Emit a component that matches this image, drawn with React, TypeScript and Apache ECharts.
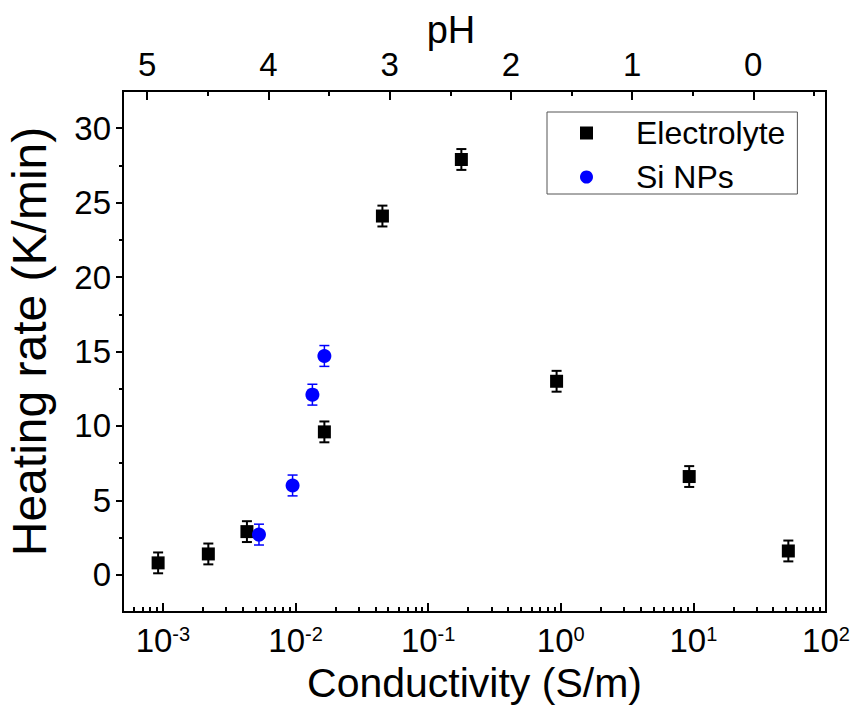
import React, { useEffect, useRef } from 'react';
import * as echarts from 'echarts';

// ---- data ----
const conductivityElectrolyte = [9.2e-4, 2.2e-3, 4.3e-3, 0.0165, 0.0452, 0.178, 0.93, 9.3, 52];
const rateElectrolyte = [0.8, 1.4, 2.9, 9.6, 24.1, 27.9, 13.0, 6.6, 1.6];
const errElectrolyte = [0.7, 0.7, 0.7, 0.7, 0.7, 0.7, 0.7, 0.7, 0.7];

const conductivitySi = [5.3e-3, 9.5e-3, 0.0134, 0.0165];
const rateSi = [2.7, 6.0, 12.1, 14.7];
const errSi = [0.7, 0.7, 0.7, 0.7];

const yMajorTicks = [0, 5, 10, 15, 20, 25, 30];
const yMinorTicks = [2.5, 7.5, 12.5, 17.5, 22.5, 27.5];
const pHMajorTicks = [0, 1, 2, 3, 4, 5];
const pHMinorTicks = [-0.5, 0.5, 1.5, 2.5, 3.5, 4.5];
const decades = [-4, -3, -2, -1, 0, 1];
const minorMantissas = [2, 3, 4, 5, 6, 7, 8, 9];

const X_MIN = 5e-4;
const X_MAX = 100;
const PH_MIN = -0.6;
const PH_MAX = 5.2;

const FONT = 'Arial, "Liberation Sans", Helvetica, sans-serif';

const logMinorTicks: number[] = [];
decades.forEach((d) => {
  minorMantissas.forEach((m) => {
    const v = Math.log10(m * Math.pow(10, d));
    if (v > Math.log10(X_MIN) && v < Math.log10(X_MAX)) logMinorTicks.push(v);
  });
});

function errorBarSeries(name: string, xs: number[], ys: number[], errs: number[], color: string, lw: number) {
  return {
    type: 'custom',
    name,
    xAxisIndex: 0,
    yAxisIndex: 0,
    silent: true,
    z: 1,
    data: xs.map((x, i) => [x, ys[i] - errs[i], ys[i] + errs[i]]),
    encode: { x: 0, y: [1, 2] },
    renderItem: (params: any, api: any) => {
      const x = api.value(0);
      const lo = api.coord([x, api.value(1)]);
      const hi = api.coord([x, api.value(2)]);
      const w = 5;
      const style = { stroke: color, lineWidth: lw, fill: 'none' };
      return {
        type: 'group',
        children: [
          { type: 'line', shape: { x1: lo[0], y1: lo[1], x2: hi[0], y2: hi[1] }, style },
          { type: 'line', shape: { x1: lo[0] - w, y1: lo[1], x2: lo[0] + w, y2: lo[1] }, style },
          { type: 'line', shape: { x1: hi[0] - w, y1: hi[1], x2: hi[0] + w, y2: hi[1] }, style },
        ],
      };
    },
  };
}

export default function App() {
  const ref = useRef<HTMLDivElement>(null);

  useEffect(() => {
    const chart = echarts.init(ref.current as HTMLDivElement, null, { renderer: 'svg' });
    const black = '#000';
    const option: any = {
      animation: false,
      backgroundColor: '#fff',
      grid: {
        left: 123,
        top: 91,
        width: 703,
        height: 521,
        show: true,
        borderColor: black,
        borderWidth: 2,
        backgroundColor: 'transparent',
        containLabel: false,
        outerBoundsMode: 'none',
      },
      legend: {
        orient: 'vertical',
        left: 547,
        top: 112,
        padding: [5, 12, 1, 33],
        itemWidth: 13,
        itemHeight: 13,
        itemGap: 12,
        borderColor: '#555',
        borderWidth: 1,
        backgroundColor: '#fff',
        selectedMode: false,
        textStyle: { fontSize: 32, fontFamily: FONT, color: black, padding: [0, 0, 0, 38] },
        data: ['Electrolyte', 'Si NPs'],
      },
      xAxis: [
        {
          type: 'log',
          logBase: 10,
          min: X_MIN,
          max: X_MAX,
          position: 'bottom',
          name: 'Conductivity (S/m)',
          nameLocation: 'middle',
          nameGap: 50,
          nameMoveOverlap: false,
          nameTextStyle: { fontSize: 41, fontFamily: FONT, color: black },
          axisLine: { show: true, onZero: false, lineStyle: { color: black, width: 2 } },
          axisTick: { show: true, inside: true, length: 9, lineStyle: { color: black, width: 2 } },
          splitLine: { show: false },
          axisLabel: {
            margin: 12,
            formatter: (v: number) => {
              const l = Math.log10(v);
              const e = Math.round(l);
              if (Math.abs(l - e) > 1e-6) return '';
              return '{b|10}{s|' + e + '}';
            },
            rich: {
              b: { fontSize: 33, fontFamily: FONT, color: black },
              s: { fontSize: 20, fontFamily: FONT, color: black, verticalAlign: 'top' },
            },
          },
        },
        {
          type: 'value',
          position: 'top',
          min: PH_MIN,
          max: PH_MAX,
          inverse: true,
          name: 'pH',
          nameLocation: 'middle',
          nameGap: 42,
          nameMoveOverlap: false,
          nameTextStyle: { fontSize: 38, fontFamily: FONT, color: black, padding: [0, 47, 0, 0] },
          axisLine: { show: true, onZero: false, lineStyle: { color: black, width: 2 } },
          axisTick: { show: true, inside: true, length: 9, customValues: pHMajorTicks, lineStyle: { color: black, width: 2 } },
          axisLabel: { show: true, margin: 10, customValues: pHMajorTicks, fontSize: 33, fontFamily: FONT, color: black },
          splitLine: { show: false },
        },
        {
          type: 'value',
          position: 'bottom',
          min: Math.log10(X_MIN),
          max: Math.log10(X_MAX),
          axisLine: { show: false, onZero: false },
          axisLabel: { show: false },
          axisTick: { show: true, inside: true, length: 5, customValues: logMinorTicks, lineStyle: { color: black, width: 2 } },
          splitLine: { show: false },
        },
        {
          type: 'value',
          position: 'top',
          min: PH_MIN,
          max: PH_MAX,
          inverse: true,
          axisLine: { show: false, onZero: false },
          axisLabel: { show: false },
          axisTick: { show: true, inside: true, length: 5, customValues: pHMinorTicks, lineStyle: { color: black, width: 2 } },
          splitLine: { show: false },
        },
      ],
      yAxis: [
        {
          type: 'value',
          position: 'left',
          min: -2.5,
          max: 32.5,
          name: 'Heating rate (K/min)',
          nameLocation: 'middle',
          nameGap: 70,
          nameMoveOverlap: false,
          nameTextStyle: { fontSize: 48, fontFamily: FONT, color: black, padding: [0, 0, 0, 20] },
          axisLine: { show: true, onZero: false, lineStyle: { color: black, width: 2 } },
          axisTick: { show: true, inside: false, length: 7, customValues: yMajorTicks, lineStyle: { color: black, width: 2 } },
          axisLabel: { show: true, margin: 12, customValues: yMajorTicks, fontSize: 33, fontFamily: FONT, color: black },
          splitLine: { show: false },
        },
        {
          type: 'value',
          position: 'left',
          min: -2.5,
          max: 32.5,
          axisLine: { show: false, onZero: false },
          axisLabel: { show: false },
          axisTick: { show: true, inside: false, length: 4, customValues: yMinorTicks, lineStyle: { color: black, width: 2 } },
          splitLine: { show: false },
        },
      ],
      series: [
        errorBarSeries('Electrolyte error', conductivityElectrolyte, rateElectrolyte, errElectrolyte, '#000', 2),
        errorBarSeries('Si NPs error', conductivitySi, rateSi, errSi, '#0000ff', 1.5),
        {
          type: 'scatter',
          name: 'Electrolyte',
          xAxisIndex: 0,
          yAxisIndex: 0,
          symbol: 'rect',
          symbolSize: 13,
          itemStyle: { color: '#000', opacity: 1 },
          z: 3,
          data: conductivityElectrolyte.map((c, i) => [c, rateElectrolyte[i]]),
        },
        {
          type: 'scatter',
          name: 'Si NPs',
          xAxisIndex: 0,
          yAxisIndex: 0,
          symbol: 'circle',
          symbolSize: 14,
          itemStyle: { color: '#0000ff', opacity: 1 },
          z: 4,
          data: conductivitySi.map((c, i) => [c, rateSi[i]]),
        },
      ],
    };
    chart.setOption(option);
    return () => chart.dispose();
  }, []);

  return (
    <div
      ref={ref}
      style={{ position: 'absolute', left: 0, top: 0, width: 856, height: 711, background: '#fff' }}
    />
  );
}
